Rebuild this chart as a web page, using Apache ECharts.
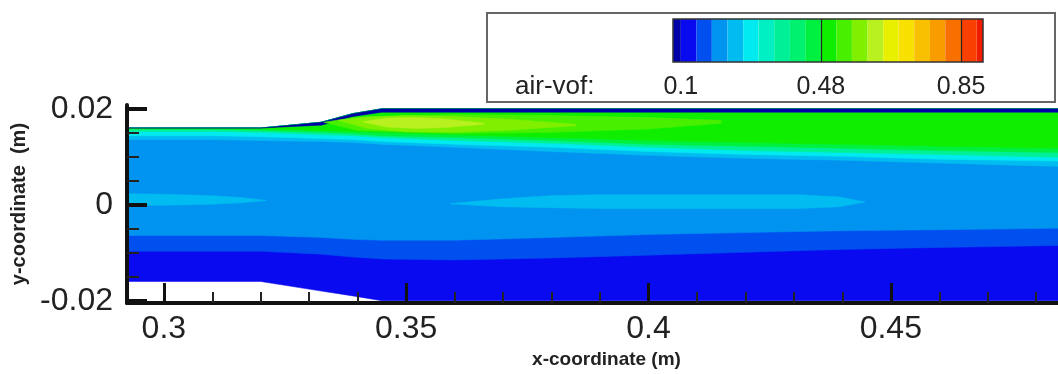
<!DOCTYPE html>
<html>
<head>
<meta charset="utf-8">
<script src="https://cdn.jsdelivr.net/npm/echarts@6/dist/echarts.min.js"></script>
<style>
  html, body { margin: 0; padding: 0; background: #fff; }
  #chart { width: 1058px; height: 374px; }
</style>
</head>
<body>
<div id="chart"></div>
<script>
// stations along the channel (x, m)
const xGrid = [0.2924, 0.31, 0.32, 0.3325, 0.339, 0.345, 0.36, 0.38, 0.40, 0.42, 0.44, 0.46, 0.4845];

// channel walls (y, m)
const wallTop = [0.016, 0.016, 0.016, 0.0172, 0.019, 0.02, 0.02, 0.02, 0.02, 0.02, 0.02, 0.02, 0.02];
const wallBot = [-0.016, -0.016, -0.016, -0.018, -0.019, -0.02, -0.02, -0.02, -0.02, -0.02, -0.02, -0.02, -0.02];

// contour boundaries, bottom to top
const b1 = [-0.0097, -0.0097, -0.0097, -0.0103, -0.0109, -0.0113, -0.0115, -0.0111, -0.0105, -0.0099, -0.0093, -0.0089, -0.0085];
const b2 = [-0.0064, -0.0064, -0.0064, -0.0068, -0.0072, -0.0074, -0.0074, -0.0068, -0.0062, -0.0058, -0.0054, -0.0052, -0.0049];
const b3 = [0.0136, 0.0136, 0.0134, 0.0132, 0.013, 0.0126, 0.012, 0.0111, 0.0103, 0.0097, 0.0093, 0.0087, 0.008];
const b4 = [0.0144, 0.0144, 0.0142, 0.0138, 0.0136, 0.0132, 0.0126, 0.012, 0.0111, 0.0105, 0.0101, 0.0095, 0.0091];
const b5 = [0.0153, 0.0153, 0.0151, 0.0146, 0.0144, 0.014, 0.0134, 0.0128, 0.012, 0.0113, 0.0109, 0.0105, 0.0099];
const b6 = [0.0157, 0.0157, 0.0155, 0.0151, 0.0148, 0.0144, 0.014, 0.0134, 0.0126, 0.0122, 0.0118, 0.0113, 0.0109];
const b7 = [0.0159, 0.0159, 0.0158, 0.0155, 0.0153, 0.0151, 0.0146, 0.014, 0.0134, 0.013, 0.0126, 0.0122, 0.0118];
const wallLayer = [0.016, 0.016, 0.016, 0.0166, 0.0184, 0.0193, 0.0193, 0.0193, 0.0193, 0.0193, 0.0193, 0.0193, 0.0193];

// band colour level for each boundary (filled from boundary up to wall)
const bandLevel = [1, 2, 3, 4, 5, 7, 9, 10, 0];

// closed pockets
const pocketAx = [0.2924, 0.30, 0.31, 0.316, 0.3212];
const pocketAup = [0.0023, 0.0022, 0.0019, 0.0015, 0.0009];
const pocketAlo = [-0.0001, -0.0001, 0.0001, 0.0004, 0.0009];

const pocketBx = [0.359, 0.3693, 0.3797, 0.39, 0.4106, 0.4312, 0.4395, 0.4447];
const pocketBup = [0.0002, 0.0012, 0.0019, 0.0021, 0.0021, 0.0021, 0.0016, 0.0006];
const pocketBlo = [0.0002, -0.0004, -0.0006, -0.0008, -0.0008, -0.0008, -0.0004, 0.0006];

const pocketCx = [0.333, 0.34, 0.36, 0.38, 0.40, 0.415];
const pocketCup = [0.0172, 0.0183, 0.0188, 0.0186, 0.0182, 0.0176];
const pocketClo = [0.0172, 0.0155, 0.0149, 0.0151, 0.0158, 0.0170];

const pocketDx = [0.336, 0.342, 0.35, 0.36, 0.372, 0.385];
const pocketDup = [0.0176, 0.0183, 0.0186, 0.0184, 0.0178, 0.0168];
const pocketDlo = [0.0176, 0.0159, 0.0152, 0.0151, 0.0156, 0.0165];

const pocketEx = [0.341, 0.346, 0.352, 0.358, 0.366];
const pocketEup = [0.0173, 0.0181, 0.0182, 0.0179, 0.0170];
const pocketElo = [0.0173, 0.0162, 0.0159, 0.0161, 0.0168];

const pocketLevel = [4, 4, 11, 12, 13];

// colour legend
const levels = [0.1, 0.142, 0.183, 0.225, 0.267, 0.308, 0.35, 0.392, 0.433, 0.475, 0.517, 0.558, 0.6, 0.642, 0.683, 0.725, 0.767, 0.808, 0.85, 0.892];
const levelColors = ['#0000a8', '#0a0af0', '#0050f0', '#0094f0', '#00bcf0', '#00eaf0', '#00f0c4', '#00f098', '#00f070', '#00f040',
  '#10ee00', '#48f000', '#80f000', '#b8f020', '#e8f000', '#f8e000', '#f8c000', '#f89c00', '#f87000', '#f84000', '#f01c00'];
const legendRange = [0.079, 0.909];
const legendTicks = [0.1, 0.475, 0.85];
const legendTickLabels = ['0.1', '0.48', '0.85'];
const legendLines = [0.475, 0.85];

const xTicks = [0.3, 0.35, 0.4, 0.45];
const xMinorTicks = [0.31, 0.32, 0.33, 0.34, 0.36, 0.37, 0.38, 0.39, 0.41, 0.42, 0.43, 0.44, 0.46, 0.47, 0.48];
const yTicks = [-0.02, 0, 0.02];
const yMinorTicks = [-0.015, -0.01, -0.005, 0.005, 0.01, 0.015];

// build the regions
const bounds = [wallBot, b1, b2, b3, b4, b5, b6, b7, wallLayer];
const regions = [];
bounds.forEach((lo, i) => {
  regions.push({ xs: xGrid, lower: lo, upper: wallTop, color: levelColors[bandLevel[i]] });
});
[[pocketAx, pocketAlo, pocketAup], [pocketBx, pocketBlo, pocketBup], [pocketCx, pocketClo, pocketCup],
 [pocketDx, pocketDlo, pocketDup], [pocketEx, pocketElo, pocketEup]].forEach((p, i) => {
  regions.push({ xs: p[0], lower: p[1], upper: p[2], color: levelColors[pocketLevel[i]] });
});

const legendEdges = [legendRange[0]].concat(levels, [legendRange[1]]);

function renderRegion(params, api) {
  const r = regions[api.value(2)];
  const pts = [];
  for (let i = 0; i < r.xs.length; i++) pts.push(api.coord([r.xs[i], r.lower[i]]));
  for (let i = r.xs.length - 1; i >= 0; i--) pts.push(api.coord([r.xs[i], r.upper[i]]));
  return { type: 'polygon', shape: { points: pts }, style: { fill: r.color, stroke: r.color, lineWidth: 0.5 } };
}

function renderLegendBox(params, api) {
  const p0 = api.coord([api.value(0), 0]);
  const p1 = api.coord([api.value(1), 1]);
  return {
    type: 'rect',
    shape: { x: p0[0], y: p1[1], width: p1[0] - p0[0], height: p0[1] - p1[1] },
    style: { fill: levelColors[params.dataIndex] }
  };
}

function renderLegendFrame(params, api) {
  const p0 = api.coord([api.value(0), 0]);
  const p1 = api.coord([api.value(1), 1]);
  return {
    type: 'rect',
    shape: { x: p0[0], y: p1[1], width: p1[0] - p0[0], height: p0[1] - p1[1] },
    style: { fill: 'none', stroke: '#333', lineWidth: 1.5 }
  };
}

const tickFont = "'Liberation Sans', Arial, sans-serif";

const chart = echarts.init(document.getElementById('chart'));
chart.setOption({
  animation: false,
  backgroundColor: '#fff',
  graphic: [
    { type: 'rect', shape: { x: 487, y: 13, width: 568, height: 89 }, style: { fill: '#fff', stroke: '#666', lineWidth: 2 }, z: -1 },
    { type: 'text', left: 515, top: 74, style: { text: 'air-vof:', font: "26px 'Liberation Sans', Arial, sans-serif", fill: '#222' } }
  ],
  grid: [
    { left: 127, top: 105, right: 0, bottom: 68.5 },
    { left: 673, top: 19, width: 310, height: 43 }
  ],
  xAxis: [
    {
      type: 'value', gridIndex: 0, min: xGrid[0], max: xGrid[xGrid.length - 1], z: 10,
      name: 'x-coordinate (m)', nameLocation: 'middle', nameGap: 38,
      nameTextStyle: { fontFamily: tickFont, fontSize: 19, fontWeight: 'bold', color: '#222', padding: [0, 0, 0, 28] },
      axisLine: { onZero: false, lineStyle: { color: '#111', width: 4 } },
      axisTick: { inside: true, length: 20, customValues: xTicks, lineStyle: { color: '#111', width: 3 } },
      axisLabel: { customValues: xTicks, margin: 10, fontFamily: tickFont, fontSize: 32, color: '#222' },
      splitLine: { show: false }
    },
    {
      type: 'value', gridIndex: 0, min: xGrid[0], max: xGrid[xGrid.length - 1], z: 10, position: 'bottom',
      axisLine: { show: false, onZero: false },
      axisTick: { inside: true, length: 11, customValues: xMinorTicks, lineStyle: { color: '#222', width: 2 } },
      axisLabel: { show: false },
      splitLine: { show: false }
    },
    {
      type: 'value', gridIndex: 1, min: legendRange[0], max: legendRange[1], z: 10,
      axisLine: { show: false, onZero: false },
      axisTick: { inside: true, length: 43, customValues: legendLines, lineStyle: { color: '#222', width: 1.2 } },
      axisLabel: {
        customValues: legendTicks, margin: 13, fontFamily: tickFont, fontSize: 25, color: '#222',
        formatter: v => legendTickLabels[legendTicks.indexOf(v)]
      },
      splitLine: { show: false }
    }
  ],
  yAxis: [
    {
      type: 'value', gridIndex: 0, min: -0.0205, max: 0.0208, z: 10,
      name: 'y-coordinate  (m)', nameLocation: 'middle', nameGap: 84, nameRotate: 90,
      nameTextStyle: { fontFamily: tickFont, fontSize: 20, fontWeight: 'bold', color: '#222' },
      axisLine: { onZero: false, lineStyle: { color: '#111', width: 4 } },
      axisTick: { inside: true, length: 20, customValues: yTicks, lineStyle: { color: '#111', width: 4 } },
      axisLabel: { customValues: yTicks, margin: 14, fontFamily: tickFont, fontSize: 32, color: '#222' },
      splitLine: { show: false }
    },
    {
      type: 'value', gridIndex: 0, min: -0.0205, max: 0.0208, z: 10, position: 'left',
      axisLine: { show: false, onZero: false },
      axisTick: { inside: true, length: 12, customValues: yMinorTicks, lineStyle: { color: '#222', width: 2 } },
      axisLabel: { show: false },
      splitLine: { show: false }
    },
    { type: 'value', gridIndex: 1, min: 0, max: 1, show: false }
  ],
  series: [
    {
      type: 'custom', xAxisIndex: 0, yAxisIndex: 0, clip: true,
      renderItem: renderRegion,
      data: regions.map((r, i) => [r.xs[0], r.lower[0], i])
    },
    {
      type: 'custom', xAxisIndex: 2, yAxisIndex: 2,
      renderItem: renderLegendBox,
      data: levelColors.map((c, i) => [legendEdges[i], legendEdges[i + 1]])
    },
    {
      type: 'custom', xAxisIndex: 2, yAxisIndex: 2, z: 3,
      renderItem: renderLegendFrame,
      data: [[legendRange[0], legendRange[1]]]
    }
  ]
});
</script>
</body>
</html>
